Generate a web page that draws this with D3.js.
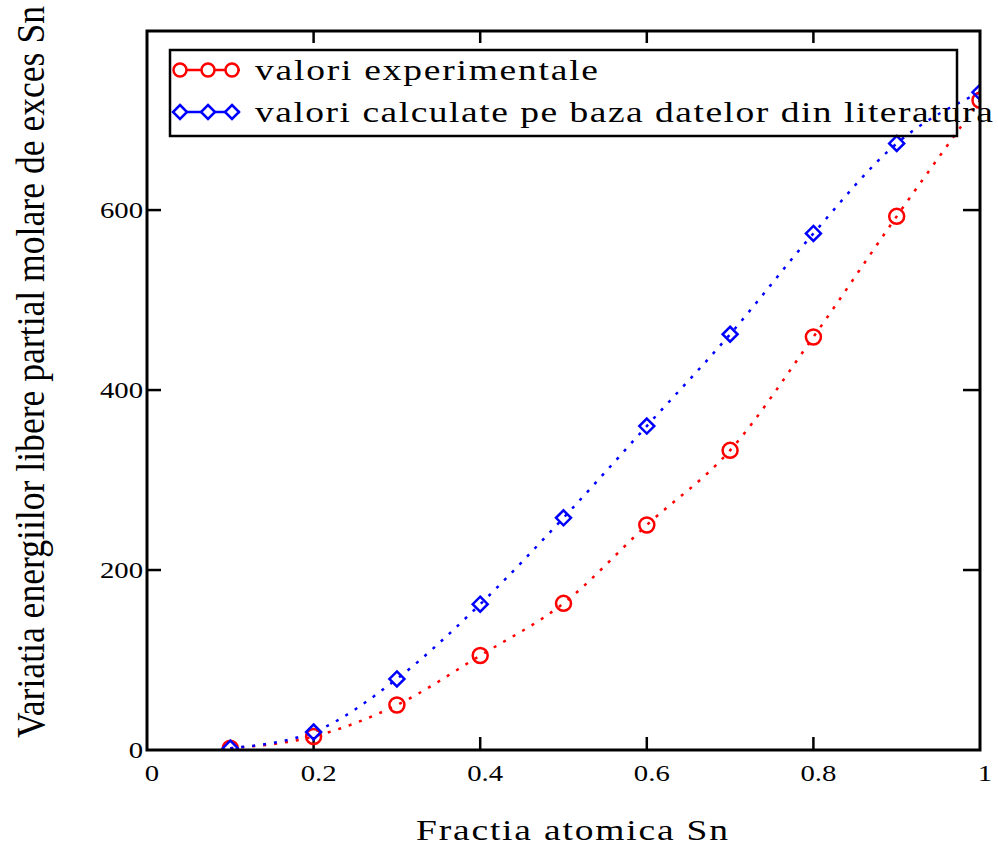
<!DOCTYPE html>
<html><head><meta charset="utf-8">
<script src="https://cdn.jsdelivr.net/npm/d3@7"></script>
<style>body{margin:0;background:#fff} svg text{font-family:"Liberation Serif","Times New Roman",Times,"DejaVu Serif",serif;}</style>
</head><body>
<svg id="c" width="998" height="850"></svg>
<script>
const xValues = [0.1, 0.2, 0.3, 0.4, 0.5, 0.6, 0.7, 0.8, 0.9, 1.0];
const experimental = [2, 15, 50, 105, 163, 250, 333, 459, 593, 722];
const calculated = [2, 20, 79, 162, 258, 360, 462, 574, 674, 731];
const xTicks = [0, 0.2, 0.4, 0.6, 0.8, 1];
const yTicks = [0, 200, 400, 600];
const seriesNames = ["valori experimentale", "valori calculate pe baza datelor din literatura"];
const xTitle = "Fractia atomica Sn";
const yTitle = "Variatia energiilor libere partial molare  de exces Sn";

const svg = d3.select("#c");
const L = 147, R = 980, T = 31, B = 750;
const SX = 1.25; // horizontal stretch of the original rendering
const x = d3.scaleLinear().domain([0, 1]).range([L, R]);
const y = d3.scaleLinear().domain([0, 799]).range([B, T]);

svg.append("defs").append("clipPath").attr("id", "clip")
  .append("rect").attr("x", L).attr("y", T).attr("width", R - L).attr("height", B - T);

// ticks (inward)
const tk = svg.append("g").attr("stroke", "#000").attr("stroke-width", 2.5);
xTicks.filter(v => v > 0 && v < 1).forEach(v => {
  tk.append("line").attr("x1", x(v)).attr("x2", x(v)).attr("y1", B).attr("y2", B - 13);
  tk.append("line").attr("x1", x(v)).attr("x2", x(v)).attr("y1", T).attr("y2", T + 12);
});
yTicks.filter(v => v > 0).forEach(v => {
  tk.append("line").attr("x1", L).attr("x2", L + 14).attr("y1", y(v)).attr("y2", y(v));
  tk.append("line").attr("x1", R).attr("x2", R - 17).attr("y1", y(v)).attr("y2", y(v));
});

// tick labels
svg.append("g").selectAll("text").data(xTicks).join("text")
  .attr("transform", d => `translate(${x(d) + 5},781) scale(${SX},1)`).attr("text-anchor", "middle")
  .style("font-size", "23px").text(d => d3.format("")(d));
svg.append("g").selectAll("text").data(yTicks).join("text")
  .attr("transform", d => `translate(143,${y(d) + 8}) scale(${SX},1)`).attr("text-anchor", "end")
  .style("font-size", "23px").text(d => d);

// lines
const pts = (vals) => xValues.map((v, i) => [x(v), y(vals[i])]);
const line = d3.line().curve(d3.curveMonotoneX);
const plot = svg.append("g").attr("clip-path", "url(#clip)");
plot.append("path").attr("d", line(pts(experimental))).attr("fill", "none")
  .attr("stroke", "#ff0000").attr("stroke-width", 2.5).attr("stroke-dasharray", "3,8");
plot.append("path").attr("d", line(pts(calculated))).attr("fill", "none")
  .attr("stroke", "#0000ff").attr("stroke-width", 2.5).attr("stroke-dasharray", "3,8");

// markers
const diamond = (cx, cy, s) => `M${cx},${cy - s}L${cx + s},${cy}L${cx},${cy + s}L${cx - s},${cy}Z`;
plot.selectAll("circle.e").data(pts(experimental)).join("circle").attr("class", "e")
  .attr("cx", d => d[0]).attr("cy", d => d[1]).attr("r", 7.5)
  .attr("fill", "none").attr("stroke", "#ff0000").attr("stroke-width", 2.5);
plot.selectAll("path.c").data(pts(calculated)).join("path").attr("class", "c")
  .attr("d", d => diamond(d[0], d[1], 7.5))
  .attr("fill", "none").attr("stroke", "#0000ff").attr("stroke-width", 2.5);

// frame
svg.append("rect").attr("x", L).attr("y", T).attr("width", R - L).attr("height", B - T)
  .attr("fill", "none").attr("stroke", "#000").attr("stroke-width", 3);

// legend
svg.append("rect").attr("x", 170).attr("y", 50).attr("width", 787).attr("height", 86)
  .attr("fill", "none").attr("stroke", "#000").attr("stroke-width", 2.5);
const lg = svg.append("g");
const rows = [{y: 70, c: "#ff0000", t: "c"}, {y: 112, c: "#0000ff", t: "d"}];
const legendTextLen = [343, 738];
rows.forEach((r, i) => {
  lg.append("line").attr("x1", 173).attr("x2", 240).attr("y1", r.y).attr("y2", r.y)
    .attr("stroke", r.c).attr("stroke-width", 2.5);
  [180, 208, 232].forEach(cx => {
    if (r.t === "c") lg.append("circle").attr("cx", cx).attr("cy", r.y).attr("r", 6.5)
      .attr("fill", "#fff").attr("stroke", r.c).attr("stroke-width", 2.5);
    else lg.append("path").attr("d", diamond(cx, r.y, 7)).attr("fill", "#fff")
      .attr("stroke", r.c).attr("stroke-width", 2.5);
  });
  lg.append("text").attr("transform", `translate(255,${r.y + 10}) scale(${SX},1)`)
    .style("font-size", "30px").attr("textLength", legendTextLen[i] / SX).attr("lengthAdjust", "spacing")
    .text(seriesNames[i]);
});

// axis titles
svg.append("text").attr("transform", `translate(416,840) scale(${SX},1)`)
  .style("font-size", "30px").attr("textLength", 312 / SX).attr("lengthAdjust", "spacing").text(xTitle);
svg.append("text").attr("transform", `translate(44,738) scale(${SX},1) rotate(-90)`)
  .style("font-size", "32px")
  .attr("textLength", 732).attr("lengthAdjust", "spacingAndGlyphs").text(yTitle);
</script>
</body></html>
